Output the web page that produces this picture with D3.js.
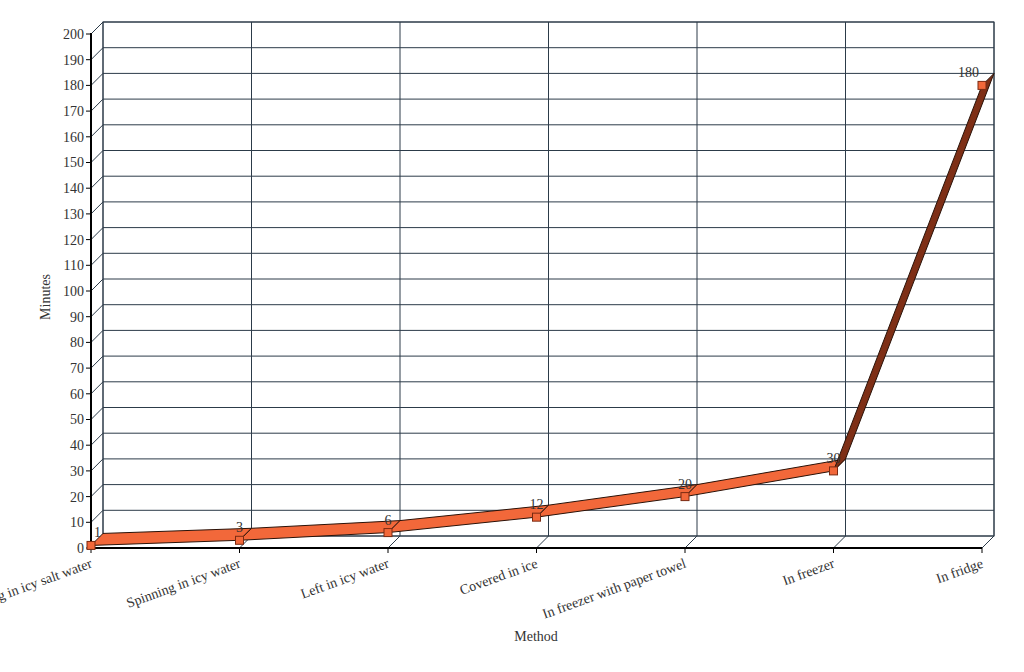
<!DOCTYPE html>
<html><head><meta charset="utf-8">
<script src="https://cdn.jsdelivr.net/npm/d3@7"></script>
<style>body{margin:0;background:#fff}svg{display:block}text{font-family:"Liberation Serif","Times New Roman",serif;fill:#333}</style>
</head><body><svg id="c" width="1024" height="672"></svg>
<script>
const categories = ["Chilling in icy salt water","Spinning in icy water","Left in icy water","Covered in ice","In freezer with paper towel","In freezer","In fridge"];
const values = [1,3,6,12,20,30,180];
const yTicks = d3.range(0,201,10);
const yTitle = "Minutes";
const xTitle = "Method";

(function(){
const svg = d3.select("#c");
const pL=91, pR=982, pB=548, pT=34, DX=12, DY=-12;
const x = d3.scalePoint().domain(categories).range([pL,pR]);
const y = d3.scaleLinear().domain([0,200]).range([pB,pT]);
const grid = "#2c3b49";

const g = svg.append("g");
g.append("rect").attr("x",pL+DX).attr("y",pT+DY).attr("width",pR-pL).attr("height",pB-pT).attr("fill","#fff").attr("stroke",grid);
yTicks.forEach(t=>{
  g.append("line").attr("x1",pL+DX).attr("x2",pR+DX).attr("y1",y(t)+DY).attr("y2",y(t)+DY).attr("stroke",grid).attr("stroke-width",1);
  g.append("line").attr("x1",pL).attr("y1",y(t)).attr("x2",pL+DX).attr("y2",y(t)+DY).attr("stroke",grid).attr("stroke-width",1);
});
categories.forEach(c=>{
  g.append("line").attr("x1",x(c)+DX).attr("x2",x(c)+DX).attr("y1",pT+DY).attr("y2",pB+DY).attr("stroke",grid);
  g.append("line").attr("x1",x(c)).attr("y1",pB).attr("x2",x(c)+DX).attr("y2",pB+DY).attr("stroke",grid);
});
g.append("line").attr("x1",pL).attr("x2",pL).attr("y1",pT-1).attr("y2",pB+1).attr("stroke","#000").attr("stroke-width",2);
g.append("line").attr("x1",pL-1).attr("x2",pR).attr("y1",pB).attr("y2",pB).attr("stroke","#000").attr("stroke-width",2);
yTicks.forEach(t=>{
  g.append("line").attr("x1",pL-5).attr("x2",pL).attr("y1",y(t)).attr("y2",y(t)).attr("stroke","#000");
  g.append("text").attr("x",pL-7).attr("y",y(t)).attr("dy","0.35em").attr("text-anchor","end").attr("font-size",14).text(t);
});
categories.forEach(c=>{
  g.append("line").attr("x1",x(c)).attr("x2",x(c)).attr("y1",pB).attr("y2",pB+5).attr("stroke","#000");
  g.append("text").attr("transform",`translate(${x(c)+2},${pB+19}) rotate(-20)`).attr("text-anchor","end").attr("font-size",14).text(c);
});
g.append("text").attr("transform",`translate(50,297) rotate(-90)`).attr("text-anchor","middle").attr("font-size",14).text(yTitle);
g.append("text").attr("x",536).attr("y",641).attr("text-anchor","middle").attr("font-size",14).text(xTitle);

const pts = categories.map((c,i)=>[x(c),y(values[i])]);
for(let i=0;i<pts.length-1;i++){
  const [x1,y1]=pts[i],[x2,y2]=pts[i+1];
  const cross=(x2-x1)*DY-(y2-y1)*DX;
  const poly=[[x1,y1],[x2,y2],[x2+DX,y2+DY],[x1+DX,y1+DY]];
  g.append("path").attr("d","M"+poly.map(p=>p.join(",")).join("L")+"Z")
    .attr("fill",cross<0?"#f2683a":"#7e2f16").attr("stroke","#2a1208").attr("stroke-width",1).attr("stroke-linejoin","round");
}
pts.forEach(p=>{
  g.append("rect").attr("x",p[0]-4).attr("y",p[1]-4).attr("width",8).attr("height",8).attr("fill","#f2683a").attr("stroke","#7a2a12").attr("stroke-width",1);
});
pts.forEach((p,i)=>{
  const t=g.append("text").attr("y",p[1]-8).attr("text-anchor","middle").attr("font-size",14).text(values[i]);
  const w=t.node().getComputedTextLength();
  const cx=Math.max(pL+3+w/2,Math.min(pR-3-w/2,p[0]));
  t.attr("x",cx);
});
})();
</script></body></html>
